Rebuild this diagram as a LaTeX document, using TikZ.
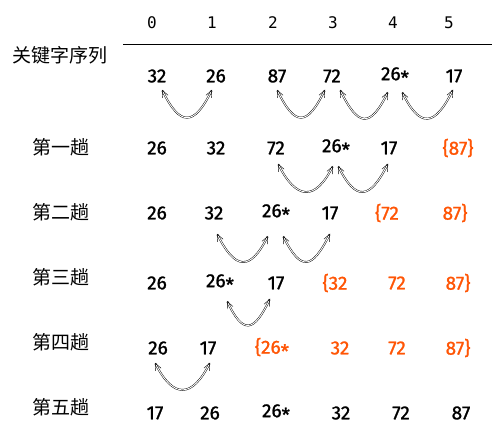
\documentclass[tikz,border=0pt]{standalone}
\usepackage{fontspec}
\usetikzlibrary{arrows.meta}
\newfontfamily\cjk{Noto Sans CJK SC}
\newfontfamily\numfont{Fira Sans}[FakeBold=1.2]
\newfontfamily\idxfont{DejaVu Sans Mono}
\definecolor{sorted}{RGB}{255,85,5}
\newcommand\st{\raisebox{-4.5pt}{*}}

\begin{document}
\begin{tikzpicture}[
  x=1pt, y=-1pt,
  idx/.style={font=\idxfont\fontsize{16}{16}\selectfont, inner sep=1pt},
  key/.style={font=\numfont\fontsize{19}{19}\selectfont, inner sep=1pt},
  done/.style={key, text=sorted},
  pass/.style={font=\cjk\fontsize{19}{19}\selectfont, inner sep=1pt},
  swap/.style={{Straight Barb[length=7pt,width=6pt]}-{Straight Barb[length=7pt,width=6pt]}, line width=0.45pt, double, double distance=0.9pt}
]
\useasboundingbox (0,0) rectangle (502,435);

% Index header
\node[idx] (i0) at (152,23) {0};
\node[idx] (i1) at (212,23) {1};
\node[idx] (i2) at (273,23) {2};
\node[idx] (i3) at (333,23) {3};
\node[idx] (i4) at (393,23) {4};
\node[idx] (i5) at (449,23) {5};
\draw[line width=1pt] (123,45) -- (492,45);

% Row labels
\node[pass] (l0) at (60,55) {关键字序列};
\node[pass] (l1) at (61,147) {第一趟};
\node[pass] (l2) at (61,212) {第二趟};
\node[pass] (l3) at (61,277) {第三趟};
\node[pass] (l4) at (61,342) {第四趟};
\node[pass] (l5) at (61,407) {第五趟};

% Initial keys
\node[key] (r0c0) at (157,76) {32};
\node[key] (r0c1) at (216,76) {26};
\node[key] (r0c2) at (277,76) {87};
\node[key] (r0c3) at (332,76) {72};
\node[key] (r0c4) at (395,76) {26\st};
\node[key] (r0c5) at (454,76) {17};

% Pass 1
\node[key] (r1c0) at (157,148) {26};
\node[key] (r1c1) at (216,148) {32};
\node[key] (r1c2) at (276,148) {72};
\node[key] (r1c3) at (336,148) {26\st};
\node[key] (r1c4) at (389,148) {17};
\node[done] (r1c5) at (458,148) {\{87\}};

% Pass 2
\node[key] (r2c0) at (157,213) {26};
\node[key] (r2c1) at (214,213) {32};
\node[key] (r2c2) at (276,213) {26\st};
\node[key] (r2c3) at (330,213) {17};
\node[done] (r2c4) at (387,213) {\{72};
\node[done] (r2c5) at (455,213) {87\}};

% Pass 3
\node[key] (r3c0) at (157,283) {26};
\node[key] (r3c1) at (220,283) {26\st};
\node[key] (r3c2) at (276,283) {17};
\node[done] (r3c3) at (335,283) {\{32};
\node[done] (r3c4) at (397,283) {72};
\node[done] (r3c5) at (458,283) {87\}};

% Pass 4
\node[key] (r4c0) at (158,348) {26};
\node[key] (r4c1) at (208,348) {17};
\node[done] (r4c2) at (272,348) {\{26\st};
\node[done] (r4c3) at (340,348) {32};
\node[done] (r4c4) at (397,348) {72};
\node[done] (r4c5) at (458,348) {87\}};

% Pass 5
\node[key] (r5c0) at (155,413) {17};
\node[key] (r5c1) at (210,413) {26};
\node[key] (r5c2) at (276,413) {26\st};
\node[key] (r5c3) at (341,413) {32};
\node[key] (r5c4) at (401,413) {72};
\node[key] (r5c5) at (461,413) {87};

% Swaps
\draw[swap] ([shift={(5,6)}]r0c0.south) .. controls +(18,37) and +(-18,37) .. ([shift={(-4,6)}]r0c1.south);
\draw[swap] ([shift={(0,6)}]r0c2.south) .. controls +(18,37) and +(-18,37) .. ([shift={(-7,6)}]r0c3.south);
\draw[swap] ([shift={(8,6)}]r0c3.south) .. controls +(18,37) and +(-18,37) .. ([shift={(-7,6)}]r0c4.south);
\draw[swap] ([shift={(7,6)}]r0c4.south) .. controls +(18,37) and +(-18,37) .. ([shift={(-1,6)}]r0c5.south);

\draw[swap] ([shift={(2,8)}]r1c2.south) .. controls +(18,36) and +(-18,36) .. ([shift={(-3,8)}]r1c3.south);
\draw[swap] ([shift={(2,8)}]r1c3.south) .. controls +(18,36) and +(-18,36) .. ([shift={(-1,8)}]r1c4.south);

\draw[swap] ([shift={(3,13)}]r2c1.south) .. controls +(18,36) and +(-18,36) .. ([shift={(-8,13)}]r2c2.south);
\draw[swap] ([shift={(7,13)}]r2c2.south) .. controls +(18,36) and +(-18,36) .. ([shift={(0,13)}]r2c3.south);

\draw[swap] ([shift={(7,8)}]r3c1.south) .. controls +(16,34) and +(-16,34) .. ([shift={(-6,8)}]r3c2.south);

\draw[swap] ([shift={(-3,7)}]r4c0.south) .. controls +(18,36) and +(-18,36) .. ([shift={(2,7)}]r4c1.south);

\end{tikzpicture}
\end{document}
